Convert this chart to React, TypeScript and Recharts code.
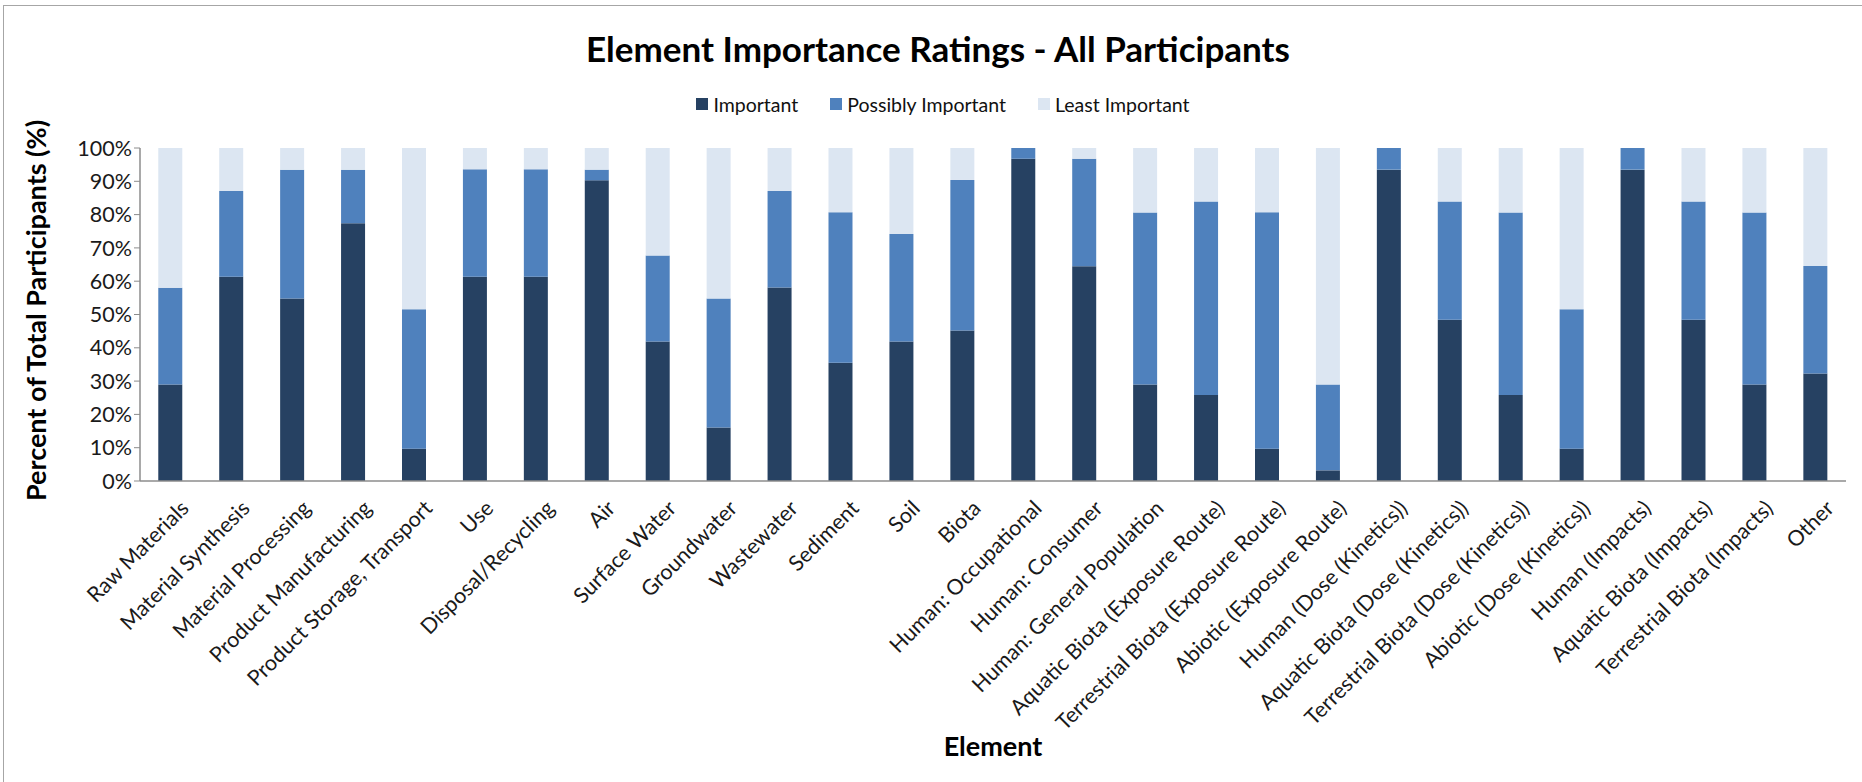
import { Bar, BarChart, Legend, XAxis, YAxis } from "recharts";

const CATEGORIES = [
  "Raw Materials",
  "Material Synthesis",
  "Material Processing",
  "Product Manufacturing",
  "Product Storage, Transport",
  "Use",
  "Disposal/Recycling",
  "Air",
  "Surface Water",
  "Groundwater",
  "Wastewater",
  "Sediment",
  "Soil",
  "Biota",
  "Human: Occupational",
  "Human: Consumer",
  "Human: General Population",
  "Aquatic Biota (Exposure Route)",
  "Terrestrial Biota (Exposure Route)",
  "Abiotic (Exposure Route)",
  "Human (Dose (Kinetics))",
  "Aquatic Biota (Dose (Kinetics))",
  "Terrestrial Biota (Dose (Kinetics))",
  "Abiotic (Dose (Kinetics))",
  "Human (Impacts)",
  "Aquatic Biota (Impacts)",
  "Terrestrial Biota (Impacts)",
  "Other",
];

const IMPORTANT = [29.0, 61.3, 54.8, 77.4, 9.7, 61.3, 61.3, 90.3, 41.9, 16.1, 58.1, 35.5, 41.9, 45.2, 96.8, 64.5, 29.0, 25.8, 9.7, 3.2, 93.5, 48.4, 25.8, 9.7, 93.5, 48.4, 29.0, 32.3];
const POSSIBLY = [29.0, 25.8, 38.7, 16.1, 41.9, 32.3, 32.3, 3.2, 25.8, 38.7, 29.0, 45.2, 32.3, 45.2, 3.2, 32.3, 51.6, 58.1, 71.0, 25.8, 6.5, 35.5, 54.8, 41.9, 6.5, 35.5, 51.6, 32.3];
const LEAST = [42.0, 12.9, 6.5, 6.5, 48.4, 6.4, 6.4, 6.5, 32.3, 45.2, 12.9, 19.3, 25.8, 9.6, 0, 3.2, 19.4, 16.1, 19.3, 71.0, 0, 16.1, 19.4, 48.4, 0, 16.1, 19.4, 35.4];

const SERIES_ORDER = ["Important", "Possibly Important", "Least Important"];
const Y_TICKS = [0, 10, 20, 30, 40, 50, 60, 70, 80, 90, 100];

const DARK = "#264162";
const MID = "#4f81bd";
const LIGHT = "#dce6f2";
const AXIS = "#8c8c8c";
const FONT = "Lato, 'Open Sans', sans-serif";

const rows = CATEGORIES.map((name, i) => ({
  name,
  important: IMPORTANT[i],
  possibly: POSSIBLY[i],
  least: LEAST[i],
}));

const XTick = ({ x, y, payload }: any) => (
  <g transform={`translate(${x + 9},${y + 10})`}>
    <text
      x={0}
      y={0}
      dy="0.7em"
      textAnchor="end"
      transform="rotate(-45)"
      fontFamily={FONT}
      fontSize={21.5}
      fill="#1a1a1a"
    >
      {payload.value}
    </text>
  </g>
);

const YTitle = ({ viewBox }: any) => {
  const cx = viewBox.x + 35;
  const cy = viewBox.y + viewBox.height / 2 - 4;
  return (
    <text
      x={cx}
      y={cy}
      transform={`rotate(-90 ${cx} ${cy})`}
      textAnchor="middle"
      dominantBaseline="central"
      fontFamily={FONT}
      fontWeight={700}
      fontSize={27}
      fill="#000"
    >
      Percent of Total Participants (%)
    </text>
  );
};

const LegendRow = ({ payload }: any) => {
  const items = [...(payload ?? [])].sort(
    (a: any, b: any) => SERIES_ORDER.indexOf(a.value) - SERIES_ORDER.indexOf(b.value)
  );
  return (
    <div style={{ display: "flex", justifyContent: "center", alignItems: "center", gap: 32, height: 24, fontFamily: FONT, fontSize: 19.5, color: "#111" }}>
      {items.map((p: any) => (
        <div key={p.value} style={{ display: "flex", alignItems: "center" }}>
          <span style={{ width: 12, height: 12, background: p.color, marginRight: 5, display: "inline-block" }} />
          {p.value}
        </div>
      ))}
    </div>
  );
};

export default function App() {
  return (
    <div style={{ position: "absolute", left: 0, top: 0, width: 1862, height: 782, overflow: "hidden", background: "#fff" }}>
      <div style={{ position: "absolute", left: 3, top: 5, width: 1900, height: 900, border: "1px solid #a6a6a6" }} />
      <div
        style={{
          position: "absolute",
          left: 0,
          top: 27,
          width: 1876,
          textAlign: "center",
          fontFamily: FONT,
          fontWeight: 700,
          fontSize: 35,
          color: "#000",
        }}
      >
        Element Importance Ratings - All Participants
      </div>
      <BarChart
        width={1862}
        height={782}
        data={rows}
        margin={{ top: 124, right: 16, bottom: 0, left: 0 }}
        barCategoryGap="30%"
        style={{ position: "absolute", left: 0, top: 0 }}
      >
        <Legend
          verticalAlign="top"
          content={<LegendRow />}
          wrapperStyle={{ top: 92, left: 0, width: 1886 }}
        />
        <XAxis
          dataKey="name"
          height={301}
          interval={0}
          tickLine={false}
          axisLine={{ stroke: AXIS, strokeWidth: 1.5 }}
          tick={<XTick />}
          label={{ value: "Element", position: "insideBottom", offset: 26, fontFamily: FONT, fontWeight: 700, fontSize: 27, fill: "#000" }}
        />
        <YAxis
          width={140}
          domain={[0, 100]}
          ticks={Y_TICKS}
          allowDataOverflow
          tickFormatter={(v: number) => `${v}%`}
          tick={{ fontFamily: FONT, fontSize: 21.5, fill: "#1a1a1a" }}
          tickSize={6}
          tickLine={{ stroke: AXIS }}
          axisLine={{ stroke: AXIS, strokeWidth: 1.5 }}
          label={<YTitle />}
        />
        <Bar dataKey="important" name="Important" stackId="a" fill={DARK} isAnimationActive={false} />
        <Bar dataKey="possibly" name="Possibly Important" stackId="a" fill={MID} isAnimationActive={false} />
        <Bar dataKey="least" name="Least Important" stackId="a" fill={LIGHT} isAnimationActive={false} />
      </BarChart>
    </div>
  );
}
